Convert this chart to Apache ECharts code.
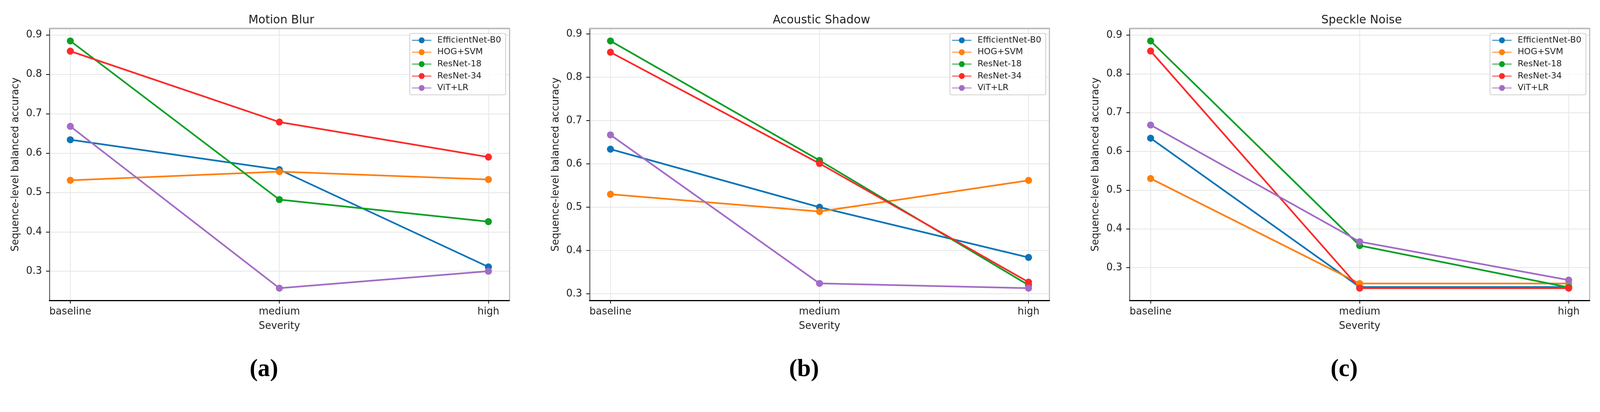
<!DOCTYPE html>
<html>
<head>
<meta charset="utf-8">
<title>Sequence-level balanced accuracy by severity</title>
<script src="https://cdn.jsdelivr.net/npm/echarts@6/dist/echarts.min.js"></script>
<style>
    html, body { margin: 0; padding: 0; background: #fff; overflow: hidden; }
    #chart { width: 100vw; height: 100vh; }
</style>
</head>
<body>
<div id="chart"></div>
<script>
    var categories = ['baseline', 'medium', 'high'];
    var models = ['EfficientNet-B0', 'HOG+SVM', 'ResNet-18', 'ResNet-34', 'ViT+LR'];
    var yTicks = [0.3, 0.4, 0.5, 0.6, 0.7, 0.8, 0.9];
    var panelTitles = ['Motion Blur', 'Acoustic Shadow', 'Speckle Noise'];
    var panelTags = ['a', 'b', 'c'];

    // one row per model, same order as models
    var motionBlur = [
        [0.634, 0.558, 0.311],
        [0.531, 0.553, 0.533],
        [0.885, 0.482, 0.426],
        [0.859, 0.679, 0.590],
        [0.668, 0.257, 0.300]
    ];
    var acousticShadow = [
        [0.634, 0.500, 0.384],
        [0.530, 0.490, 0.562],
        [0.884, 0.608, 0.320],
        [0.858, 0.601, 0.327],
        [0.667, 0.324, 0.313]
    ];
    var speckleNoise = [
        [0.634, 0.250, 0.250],
        [0.530, 0.259, 0.259],
        [0.885, 0.357, 0.249],
        [0.859, 0.247, 0.247],
        [0.668, 0.367, 0.268]
    ];
    var panels = [motionBlur, acousticShadow, speckleNoise];

    var colors = ['#0b74b7', '#ff7f0e', '#0a9f25', '#fd2a2a', '#a36cc5'];

    var fontFamily = '"DejaVu Sans", sans-serif';
    var serif = '"Liberation Serif", serif';

    function padExtent(rows) {
        var lo = Infinity, hi = -Infinity;
        rows.forEach(function (r) {
            r.forEach(function (v) {
                lo = Math.min(lo, v);
                hi = Math.max(hi, v);
            });
        });
        var m = (hi - lo) * 0.05;
        return [lo - m, hi + m];
    }

    var chart = echarts.init(document.getElementById('chart'));
    // layout was measured on a 4307 px wide page, scale it to whatever we got
    var s = chart.getWidth() / 4307;
    function px(v) { return v * s; }

    var plotLeft = [133, 1587, 3041];
    var plotWidth = 1238;
    var plotTop = 77;
    var plotHeight = 733;

    var grid = [], xAxis = [], yAxis = [], series = [], legend = [], title = [];

    panels.forEach(function (rows, p) {
        var ext = padExtent(rows);
        var cx = plotLeft[p] + plotWidth / 2;

        grid.push({
            left: px(plotLeft[p]), top: px(plotTop),
            width: px(plotWidth), height: px(plotHeight),
            containLabel: false
        });

        // bottom axis
        xAxis.push({
            type: 'value', gridIndex: p, min: -0.1, max: 2.1, splitNumber: 2,
            name: 'Severity', nameLocation: 'middle', nameGap: px(56),
            nameTextStyle: { fontSize: px(27), color: '#222', fontFamily: fontFamily },
            axisLine: { onZero: false, lineStyle: { color: '#000', width: px(3) } },
            axisTick: { show: true, length: px(8), customValues: [0, 1, 2], lineStyle: { color: '#000', width: px(2) } },
            axisLabel: {
                customValues: [0, 1, 2], margin: px(17), fontSize: px(27), color: '#222', fontFamily: fontFamily,
                formatter: function (v) { return categories[v] || ''; }
            },
            splitLine: { show: true, lineStyle: { color: '#e6e6e6', width: px(2) } }
        });
        // top spine
        xAxis.push({
            type: 'value', gridIndex: p, position: 'top', min: -0.1, max: 2.1,
            axisLine: { onZero: false, lineStyle: { color: '#bdbdbd', width: px(4) } },
            axisTick: { show: false }, axisLabel: { show: false }, splitLine: { show: false }
        });

        // left axis
        yAxis.push({
            type: 'value', gridIndex: p, min: ext[0], max: ext[1], splitNumber: 7,
            name: 'Sequence-level balanced accuracy', nameLocation: 'middle', nameGap: px(77),
            nameTextStyle: { fontSize: px(27), color: '#222', fontFamily: fontFamily },
            axisLine: { show: true, onZero: false, lineStyle: { color: '#555', width: px(2.5) } },
            axisTick: { show: true, length: px(9), customValues: yTicks, lineStyle: { color: '#000', width: px(2) } },
            axisLabel: {
                customValues: yTicks, margin: px(20), fontSize: px(27), color: '#222', fontFamily: fontFamily,
                formatter: function (v) { return v.toFixed(1); }
            },
            splitLine: { show: true, lineStyle: { color: '#e6e6e6', width: px(2) } }
        });
        // right spine
        yAxis.push({
            type: 'value', gridIndex: p, position: 'right', min: ext[0], max: ext[1],
            axisLine: { show: true, onZero: false, lineStyle: { color: '#bdbdbd', width: px(3) } },
            axisTick: { show: false }, axisLabel: { show: false }, splitLine: { show: false }
        });

        rows.forEach(function (row, m) {
            series.push({
                name: models[m],
                type: 'line',
                xAxisIndex: p * 2,
                yAxisIndex: p * 2,
                data: row.map(function (v, i) { return [i, v]; }),
                symbol: 'circle',
                symbolSize: px(19),
                color: colors[m],
                lineStyle: { width: px(4.5), color: colors[m] },
                itemStyle: { color: colors[m] },
                animation: false
            });
        });

        legend.push({
            data: models,
            orient: 'vertical',
            right: px(4307 - (plotLeft[p] + plotWidth - 10)),
            top: px(90),
            itemWidth: px(52),
            itemHeight: px(20),
            itemGap: px(9),
            padding: [px(7), px(12), px(7), px(5)],
            backgroundColor: 'rgba(255,255,255,0.8)',
            borderColor: '#cccccc',
            borderWidth: px(2),
            borderRadius: px(4),
            selectedMode: false,
            textStyle: { fontSize: px(23), color: '#222', fontFamily: fontFamily, padding: [0, 0, 0, px(11)] }
        });

        title.push({
            text: panelTitles[p],
            left: px(cx), top: px(35), textAlign: 'center',
            textStyle: { fontSize: px(31), fontWeight: 'normal', color: '#222', fontFamily: fontFamily }
        });
        title.push({
            text: '{p|(}{b|' + panelTags[p] + '}{p|)}',
            left: px(cx - 47), top: px(958), textAlign: 'center',
            textStyle: {
                rich: {
                    p: { fontSize: px(66), fontFamily: serif, color: '#000' },
                    b: { fontSize: px(66), fontWeight: 'bold', fontFamily: serif, color: '#000' }
                }
            }
        });
    });

    chart.setOption({
        backgroundColor: '#ffffff',
        animation: false,
        title: title,
        legend: legend,
        grid: grid,
        xAxis: xAxis,
        yAxis: yAxis,
        series: series
    });
</script>
</body>
</html>
